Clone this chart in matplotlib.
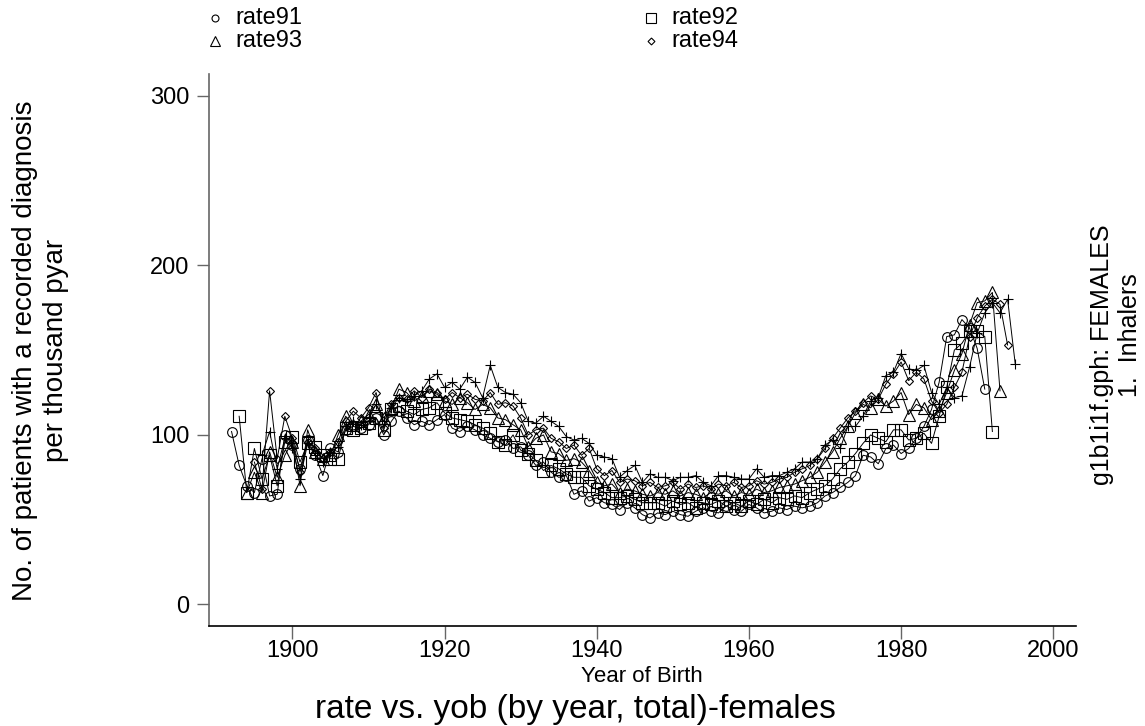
import numpy as np
import matplotlib
matplotlib.use("Agg")
import matplotlib.pyplot as plt
from matplotlib.lines import Line2D

plt.rcParams["font.family"] = ["Liberation Sans", "DejaVu Sans"]

# rate per thousand pyar by year of birth, one series per calendar year
rate91 = [102, 82, 70, 66, 86, 64, 65, 100, 94, 80,
          97, 88, 76, 92, 90, 103, 105, 104, 106, 110,
          100, 108, 114, 110, 106, 108, 106, 109, 112, 104,
          102, 105, 103, 100, 98, 96, 97, 92, 93, 88,
          82, 84, 78, 75, 76, 65, 67, 61, 63, 60,
          59, 56, 60, 57, 53, 51, 54, 53, 55, 53,
          52, 55, 57, 55, 54, 58, 56, 55, 59, 57,
          54, 55, 57, 56, 58, 57, 58, 60, 64, 66,
          69, 72, 76, 88, 87, 83, 92, 94, 89, 92,
          98, 105, 115, 131, 158, 159, 168, 163, 151, 127]
rate92 = [111, 66, 92, 74, 88, 70, 96, 99, 84, 95,
          93, 88, 86, 86, 104, 103, 104, 107, 110, 103,
          115, 117, 114, 112, 115, 116, 119, 113, 110, 109,
          108, 106, 104, 101, 96, 94, 100, 91, 89, 85,
          79, 82, 80, 77, 75, 75, 70, 68, 66, 63,
          63, 64, 62, 60, 60, 60, 58, 61, 59, 60,
          57, 60, 59, 61, 58, 60, 58, 61, 59, 62,
          60, 63, 62, 64, 63, 66, 68, 70, 74, 80,
          84, 89, 95, 100, 98, 96, 103, 103, 97, 98,
          101, 95, 111, 128, 150, 154, 161, 161, 158, 102]
rate93 = [66, 78, 66, 90, 75, 88, 96, 70, 103, 90,
          86, 88, 100, 111, 106, 108, 112, 118, 110, 116,
          127, 125, 120, 123, 126, 124, 120, 118, 122, 119,
          115, 118, 116, 110, 109, 106, 103, 93, 98, 100,
          90, 89, 85, 86, 84, 79, 72, 70, 71, 66,
          68, 67, 65, 64, 66, 65, 67, 64, 66, 65,
          63, 66, 65, 67, 64, 66, 65, 68, 66, 67,
          69, 70, 71, 73, 75, 78, 84, 90, 98, 105,
          113, 118, 116, 121, 117, 120, 125, 112, 118, 116,
          109, 114, 125, 138, 148, 165, 178, 179, 184, 126]
rate94 = [84, 68, 126, 86, 111, 98, 78, 96, 92, 86,
          90, 96, 108, 114, 110, 116, 125, 104, 118, 122,
          121, 126, 122, 127, 125, 121, 125, 122, 124, 121,
          120, 125, 118, 119, 117, 110, 100, 103, 104, 98,
          96, 92, 94, 88, 92, 80, 76, 79, 72, 74,
          73, 70, 72, 69, 70, 72, 68, 71, 69, 70,
          68, 71, 70, 72, 69, 70, 73, 71, 72, 74,
          75, 78, 80, 82, 86, 92, 98, 104, 110, 114,
          119, 123, 121, 130, 136, 143, 132, 137, 133, 120,
          113, 118, 128, 137, 158, 169, 176, 180, 177, 153]
rate95 = [88, 102, 80, 98, 92, 74, 95, 88, 84, 90,
          93, 105, 108, 106, 110, 118, 108, 116, 122, 120,
          123, 126, 133, 136, 128, 131, 127, 134, 131, 122,
          141, 128, 125, 124, 119, 108, 107, 111, 108, 105,
          99, 97, 98, 95, 88, 87, 86, 75, 79, 82,
          72, 77, 75, 75, 73, 75, 75, 76, 72, 70,
          76, 76, 75, 74, 74, 80, 75, 76, 76, 78,
          80, 84, 84, 86, 94, 97, 92, 105, 105, 111,
          120, 122, 135, 137, 148, 139, 138, 141, 125, 118,
          128, 122, 123, 140, 160, 172, 178, 172, 180, 142]

series = [
    ("rate91", 1892, rate91, "o", 7.0),
    ("rate92", 1893, rate92, "s", 8.5),
    ("rate93", 1894, rate93, "^", 9.0),
    ("rate94", 1895, rate94, "D", 4.0),
    ("rate95", 1896, rate95, "+", 7.0),
]

fig = plt.figure(figsize=(11.45, 7.26), dpi=100)
ax = fig.add_axes([0.1823, 0.1377, 0.7575, 0.7603])

for name, start, vals, mk, ms in series:
    yob = np.arange(start, start + len(vals))
    ax.plot(yob, vals, color="black", lw=0.7, marker=mk, ms=ms,
            mfc="none", mec="black", mew=0.8)

ax.set_xlim(1889, 2003)
ax.set_ylim(-12.7, 312.8)
ax.set_xticks([1900, 1920, 1940, 1960, 1980, 2000])
ax.set_yticks([0, 100, 200, 300])
ax.tick_params(direction="out", length=9, width=1, color="#666666",
               labelsize=17)
ax.tick_params(axis="x", pad=1)
ax.tick_params(axis="y", pad=5)
for s in ("top", "right"):
    ax.spines[s].set_visible(False)
ax.spines["left"].set_color("#666666")
ax.spines["bottom"].set_color("black")
ax.spines["left"].set_linewidth(1.2)
ax.spines["bottom"].set_linewidth(1.2)

W, H = 1145.0, 726.0
fig.text(642 / W, 1 - 676 / H, "Year of Birth", ha="center", va="center",
         fontsize=16)
fig.text(0.022, 0.517, "No. of patients with a recorded diagnosis",
         rotation=90, ha="center", va="center", fontsize=20)
fig.text(0.049, 0.517, "per thousand pyar",
         rotation=90, ha="center", va="center", fontsize=20)
fig.text(1102 / W, 1 - 355 / H, "g1b1i1f.gph: FEMALES",
         rotation=90, ha="center", va="center", fontsize=18)
fig.text(1130 / W, 1 - 335 / H, "1.  Inhalers",
         rotation=90, ha="center", va="center", fontsize=18)
fig.text(575 / W, 1 - 718 / H, "rate vs. yob (by year, total)-females",
         ha="center", va="baseline", fontsize=24)

# legend drawn by hand, two columns
legend_items = [("rate91", "o", 5, 215, 18), ("rate92", "s", 6.5, 651, 18),
                ("rate93", "^", 6.5, 215, 41), ("rate94", "D", 3.5, 651, 41)]
for name, mk, ms, px, py in legend_items:
    fig.add_artist(Line2D([px / W], [1 - py / H], transform=fig.transFigure,
                          marker=mk, ms=ms, mfc="none", mec="black",
                          mew=0.8, ls="none"))
    fig.text((px + 20) / W, 1 - py / H, name, ha="left", va="center",
             fontsize=17)

fig.savefig("out.png", dpi=100)
